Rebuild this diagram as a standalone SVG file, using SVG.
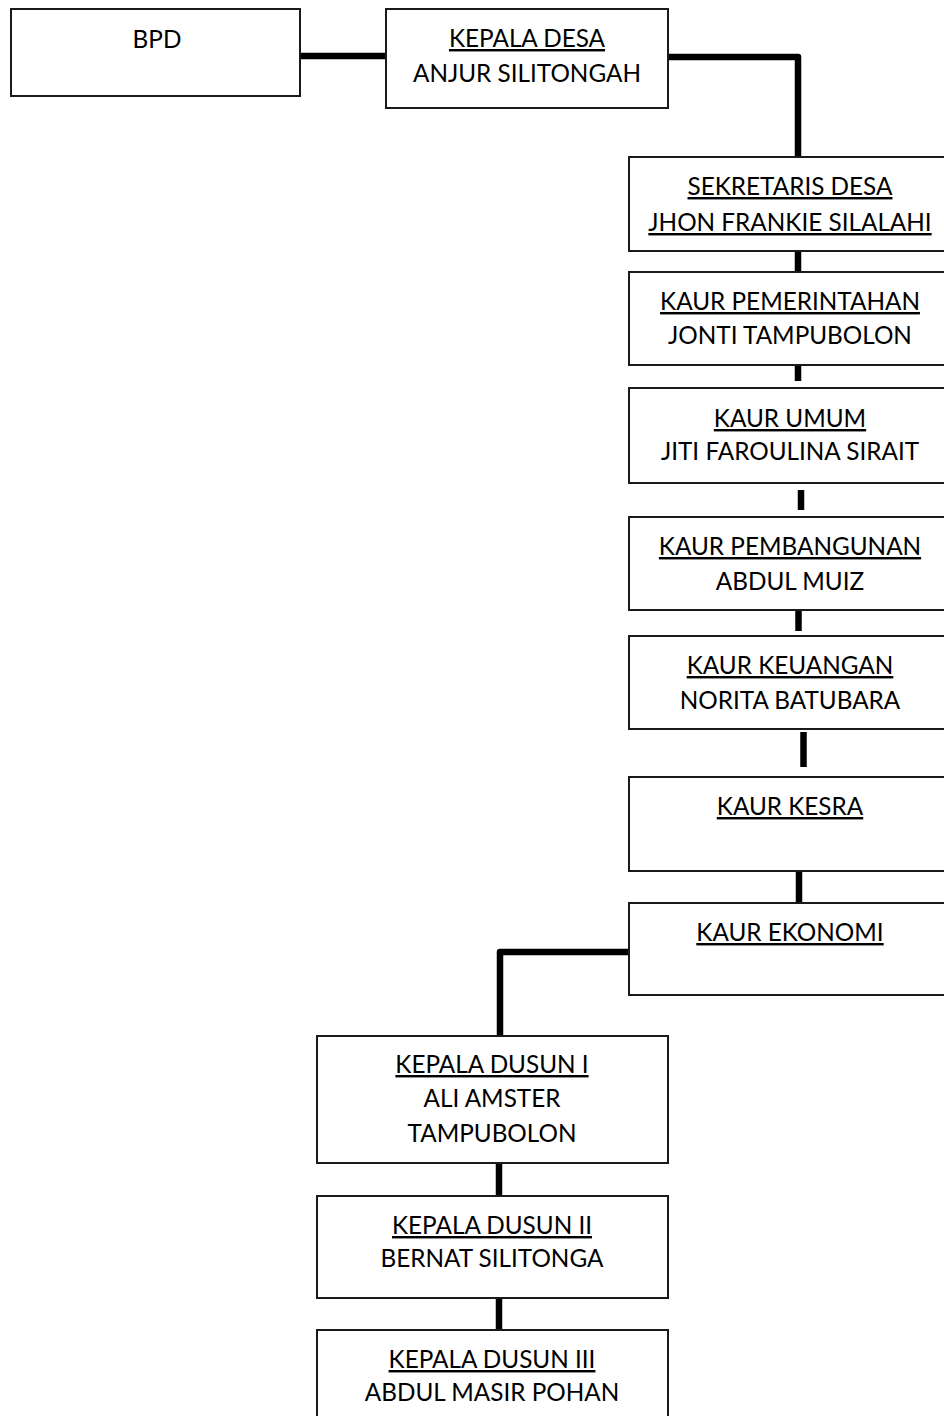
<svg xmlns="http://www.w3.org/2000/svg" width="944" height="1416" viewBox="0 0 944 1416">
<style>
.box{fill:#fff;stroke:#1a1a1a;stroke-width:2}
.t{font-family:Lato,"Open Sans","Liberation Sans",sans-serif;font-size:24.3px;fill:#000;text-anchor:middle}
.u{text-decoration:underline}
.c{fill:none;stroke:#000;stroke-width:6.5;stroke-linejoin:round}
</style>
<rect width="944" height="1416" fill="#fff"/>
<g id="connectors">
<path class="c" d="M300 56 H386"/>
<path class="c" d="M668 57 H798 V157"/>
<path class="c" d="M798 251 V273"/>
<path class="c" d="M798 361 V381"/>
<path class="c" d="M801 490 V510"/>
<path class="c" d="M798.5 610 V631"/>
<path class="c" d="M803.5 732 V767"/>
<path class="c" d="M799 870 V903"/>
<path class="c" d="M629 952 H500 V1036"/>
<path class="c" d="M499 1163 V1196"/>
<path class="c" d="M499 1297 V1330"/>
</g>
<g id="bpd">
<rect class="box" x="11" y="9" width="289" height="87"/>
<text class="t" x="157" y="48">BPD</text>
</g>
<g id="kepala-desa">
<rect class="box" x="386" y="9" width="282" height="99"/>
<text class="t u" x="527" y="47">KEPALA DESA</text>
<text class="t" x="527" y="82">ANJUR SILITONGAH</text>
</g>
<g id="sekretaris">
<rect class="box" x="629" y="157" width="330" height="94"/>
<text class="t u" x="790" y="195">SEKRETARIS DESA</text>
<text class="t u" x="790" y="231">JHON FRANKIE SILALAHI</text>
</g>
<g id="kaur-pemerintahan">
<rect class="box" x="629" y="272" width="330" height="93"/>
<text class="t u" x="790" y="310">KAUR PEMERINTAHAN</text>
<text class="t" x="790" y="344">JONTI TAMPUBOLON</text>
</g>
<g id="kaur-umum">
<rect class="box" x="629" y="388" width="330" height="95"/>
<text class="t u" x="790" y="427">KAUR UMUM</text>
<text class="t" x="790" y="460">JITI FAROULINA SIRAIT</text>
</g>
<g id="kaur-pembangunan">
<rect class="box" x="629" y="517" width="330" height="93"/>
<text class="t u" x="790" y="555">KAUR PEMBANGUNAN</text>
<text class="t" x="790" y="590">ABDUL MUIZ</text>
</g>
<g id="kaur-keuangan">
<rect class="box" x="629" y="636" width="330" height="93"/>
<text class="t u" x="790" y="674">KAUR KEUANGAN</text>
<text class="t" x="790" y="709">NORITA BATUBARA</text>
</g>
<g id="kaur-kesra">
<rect class="box" x="629" y="777" width="330" height="94"/>
<text class="t u" x="790" y="815">KAUR KESRA</text>
</g>
<g id="kaur-ekonomi">
<rect class="box" x="629" y="903" width="330" height="92"/>
<text class="t u" x="790" y="941">KAUR EKONOMI</text>
</g>
<g id="kepala-dusun-1">
<rect class="box" x="317" y="1036" width="351" height="127"/>
<text class="t u" x="492" y="1073">KEPALA DUSUN I</text>
<text class="t" x="492" y="1107">ALI AMSTER</text>
<text class="t" x="492" y="1142">TAMPUBOLON</text>
</g>
<g id="kepala-dusun-2">
<rect class="box" x="317" y="1196" width="351" height="102"/>
<text class="t u" x="492" y="1234">KEPALA DUSUN II</text>
<text class="t" x="492" y="1267">BERNAT SILITONGA</text>
</g>
<g id="kepala-dusun-3">
<rect class="box" x="317" y="1330" width="351" height="100"/>
<text class="t u" x="492" y="1368">KEPALA DUSUN III</text>
<text class="t" x="492" y="1401">ABDUL MASIR POHAN</text>
</g>
</svg>
